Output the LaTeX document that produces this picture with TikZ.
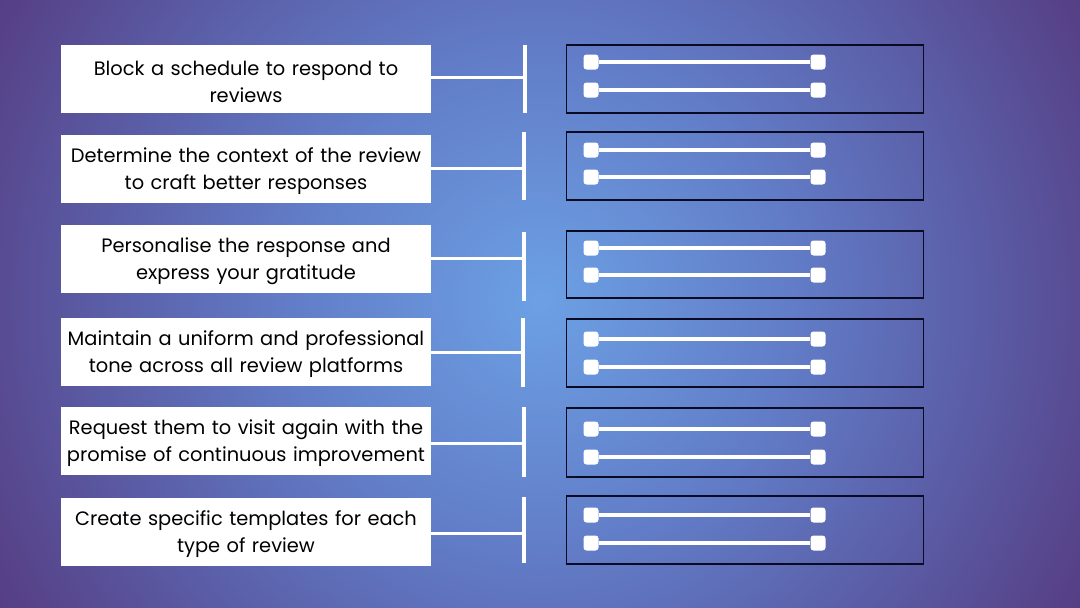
\documentclass[tikz,border=0pt]{standalone}
\usepackage{fontspec}
\setmainfont{Poppins}
\definecolor{bgA}{RGB}{108,160,228}
\definecolor{bgB}{RGB}{98,125,200}
\definecolor{bgC}{RGB}{90,92,165}
\definecolor{bgD}{RGB}{86,62,132}
\definecolor{panelline}{RGB}{10,10,35}
\pgfdeclareradialshading{bgshade}{\pgfpoint{0bp}{0bp}}{color(0bp)=(bgA); color(10bp)=(bgB); color(18bp)=(bgC); color(25bp)=(bgD); color(50bp)=(bgD)}
\tikzset{
  txtbox/.style={fill=white, minimum width=370pt, minimum height=68pt, inner sep=0pt},
  txtlabel/.style={inner sep=0pt, align=center, text width=366pt, font=\fontsize{19.4}{27}\selectfont},
  barline/.style={draw=white, line width=3.5pt},
  linkline/.style={draw=white, line width=3pt},
  panel/.style={draw=panelline, line width=1.6pt, minimum width=357pt, inner sep=0pt},
  knob/.style={fill=white, rounded corners=3pt, minimum size=15pt, inner sep=0pt},
  rail/.style={draw=white, line width=4pt}
}
\begin{document}
\begin{tikzpicture}[x=1pt, y=-1pt]
\useasboundingbox (0,0) rectangle (1080,608);
\begin{scope}
  \clip (0,0) rectangle (1080,608);
  \shade[shading=bgshade] (540-620,300-620) rectangle (540+620,300+620);
\end{scope}
% rows: index / text y / bar top / bar bottom / link y / bar x / panel top / panel bottom / knob y1 / knob y2 / text
\foreach \i/\ty/\bt/\bb/\hy/\bx/\pt/\pb/\ka/\kb/\txt in {
  1/79/45/113/77/525/45/113/62/90/{Block a schedule to respond to\\reviews},
  2/169/132/200/168/524/132/200/150/177/{Determine the context of the review\\to craft better responses},
  3/259/232/301/258/524/231/298/248/275/{Personalise the response and\\express your gratitude},
  4/351.5/318/387/352/523/319/387/339/367/{Maintain a uniform and professional\\tone across all review platforms},
  5/441/407/477/443/524/408/477/429/457/{Request them to visit again with the\\promise of continuous improvement},
  6/531.5/497/563/533/524/496/564/515/543/{Create specific templates for each\\type of review}}{
  \node[txtbox] (t\i) at (246,\ty) {};
  \node[txtlabel] (l\i) at ([yshift=-2.5pt]t\i.center) {\txt};
  \coordinate (bt\i) at (\bx,\bt);
  \coordinate (bb\i) at (\bx,\bb);
  \coordinate (h\i) at (\bx,\hy);
  \draw[barline] (bt\i) -- (bb\i);
  \draw[linkline] (t\i.east |- h\i) -- (h\i);
  \pgfmathsetmacro{\pc}{(\pt+\pb)/2}
  \pgfmathsetmacro{\ph}{\pb-\pt}
  \node[panel, minimum height=\ph pt] (p\i) at (745,\pc) {};
  \node[knob] (ka\i) at (591,\ka) {};
  \node[knob] (kb\i) at (818,\ka) {};
  \node[knob] (kc\i) at (591,\kb) {};
  \node[knob] (kd\i) at (818,\kb) {};
  \draw[rail] (ka\i) -- (kb\i);
  \draw[rail] (kc\i) -- (kd\i);
}
\end{tikzpicture}
\end{document}
